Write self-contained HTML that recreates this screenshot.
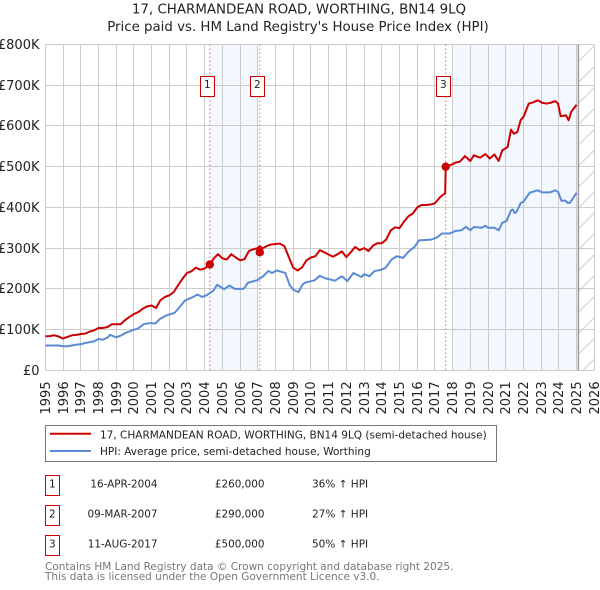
<!DOCTYPE html>
<html lang="en">
<head>
<meta charset="utf-8">
<title>17, CHARMANDEAN ROAD, WORTHING, BN14 9LQ</title>
<style>
html,body{margin:0;padding:0;background:#fff;width:600px;height:590px;overflow:hidden}
svg{display:block;font-family:"DejaVu Sans","Liberation Sans",sans-serif}
</style>
</head>
<body>
<svg id="chart" xmlns="http://www.w3.org/2000/svg" width="600" height="590" viewBox="0 0 600 590">
<defs>
<pattern id="hatch" patternUnits="userSpaceOnUse" width="20.9" height="20.9" patternTransform="translate(13,0)">
<line x1="0" y1="20.9" x2="20.9" y2="0" stroke="#ccc" stroke-width="1"/>
</pattern>
</defs>
<text x="299" y="13.5" text-anchor="middle" font-size="13.4" fill="#222">17, CHARMANDEAN ROAD, WORTHING, BN14 9LQ</text>
<text x="298" y="31" text-anchor="middle" font-size="13.35" fill="#222">Price paid vs. HM Land Registry's House Price Index (HPI)</text>
<g id="plot"></g>
<g>
<rect x="45.5" y="425.5" width="451" height="36" fill="#fff" stroke="#777" stroke-width="1"/>
<line x1="50" x2="91" y1="433.7" y2="433.7" stroke="#cc0000" stroke-width="2"/>
<text x="100" y="438.3" font-size="10.5" fill="#222">17, CHARMANDEAN ROAD, WORTHING, BN14 9LQ (semi-detached house)</text>
<line x1="50" x2="91" y1="451" y2="451" stroke="#5b8bd4" stroke-width="2"/>
<text x="100" y="455" font-size="10.5" fill="#222">HPI: Average price, semi-detached house, Worthing</text>
</g>
<g>
<rect x="45.5" y="475.5" width="14" height="20" fill="#fff" stroke="#c00" stroke-width="1"/>
<text x="52.4" y="487.3" text-anchor="middle" font-size="10.5" fill="#222">1</text>
<text x="157.5" y="487.3" text-anchor="end" font-size="10.4" fill="#222">16-APR-2004</text>
<text x="264.5" y="487.3" text-anchor="end" font-size="10.4" fill="#222">£260,000</text>
<text x="312" y="487.3" font-size="10.5" fill="#222">36% ↑ HPI</text>
<rect x="45.5" y="505.5" width="14" height="20" fill="#fff" stroke="#c00" stroke-width="1"/>
<text x="52.4" y="517.3" text-anchor="middle" font-size="10.5" fill="#222">2</text>
<text x="157.5" y="517.3" text-anchor="end" font-size="10.4" fill="#222">09-MAR-2007</text>
<text x="264.5" y="517.3" text-anchor="end" font-size="10.4" fill="#222">£290,000</text>
<text x="312" y="517.3" font-size="10.5" fill="#222">27% ↑ HPI</text>
<rect x="45.5" y="535.5" width="14" height="20" fill="#fff" stroke="#c00" stroke-width="1"/>
<text x="52.4" y="547.3" text-anchor="middle" font-size="10.5" fill="#222">3</text>
<text x="157.5" y="547.3" text-anchor="end" font-size="10.4" fill="#222">11-AUG-2017</text>
<text x="264.5" y="547.3" text-anchor="end" font-size="10.4" fill="#222">£500,000</text>
<text x="312" y="547.3" font-size="10.5" fill="#222">50% ↑ HPI</text>
</g>
<text x="45" y="570" font-size="10.5" fill="#777">Contains HM Land Registry data © Crown copyright and database right 2025.</text>
<text x="45" y="580" font-size="10.5" fill="#777">This data is licensed under the Open Government Licence v3.0.</text>
</svg>
<script>
const yearTicks = [1995,1996,1997,1998,1999,2000,2001,2002,2003,2004,2005,2006,2007,2008,2009,2010,2011,2012,2013,2014,2015,2016,2017,2018,2019,2020,2021,2022,2023,2024,2025,2026];
const valueTicks = [0,100,200,300,400,500,600,700,800];
const valueTickLabels = ['£0','£100K','£200K','£300K','£400K','£500K','£600K','£700K','£800K'];
const saleLabels = ['1','2','3'];
const saleDates = [2004.29,2007.11,2017.61];
const saleValues = [260,290,500];
const bandStarts = [2004.29,2018];
const bandEnds = [2007,2025];
const dataEndYear = 2025.1;
const propertyDates = [1995,1995.25,1995.5,1995.75,1996,1996.25,1996.5,1996.75,1997,1997.25,1997.5,1997.75,1998,1998.25,1998.5,1998.75,1999,1999.25,1999.5,1999.75,2000,2000.25,2000.5,2000.75,2001,2001.25,2001.5,2001.75,2002,2002.25,2002.5,2002.75,2003,2003.25,2003.5,2003.75,2004,2004.29,2004.5,2004.75,2005,2005.25,2005.5,2005.75,2006,2006.25,2006.5,2006.75,2007,2007.11,2007.25,2007.5,2007.75,2008,2008.25,2008.5,2008.75,2009,2009.25,2009.5,2009.75,2010,2010.25,2010.5,2010.75,2011,2011.25,2011.5,2011.75,2012,2012.25,2012.5,2012.75,2013,2013.25,2013.5,2013.75,2014,2014.25,2014.5,2014.75,2015,2015.25,2015.5,2015.75,2016,2016.25,2016.5,2016.75,2017,2017.25,2017.42,2017.58,2017.61,2018,2018.15,2018.4,2018.7,2019,2019.2,2019.55,2019.85,2020.1,2020.35,2020.6,2020.8,2021.1,2021.3,2021.45,2021.65,2021.85,2022,2022.3,2022.55,2022.8,2023.05,2023.3,2023.55,2023.8,2023.95,2024.1,2024.4,2024.55,2024.7,2025];
const propertyValues = [83.5,84,86,83,78,82,86,87,89,90,95,98,104,104,106,113,113,113,123,131,138,143,151,157,159,153,172,180,184,192,209,225,239,243,252,247,250,260,274,285,275,272,285,277,270,273,293,297,300,305,299,305,309,310,311,305,278,252,245,253,270,277,280,295,290,284,279,285,292,278,290,303,295,300,293,306,312,312,321,343,351,349,365,378,385,400,406,406,407,410,423,430,434,500,506,510,512,526,514,528,522,531,520,530,514,540,548,591,581,585,615,622,655,658,663,657,655,657,661,655,624,626,614,635,652];
const hpiDates = [1995,1995.25,1995.5,1995.75,1996,1996.25,1996.5,1996.75,1997,1997.25,1997.5,1997.75,1998,1998.25,1998.5,1998.66,1999,1999.3,1999.6,1999.9,2000.25,2000.55,2000.9,2001.2,2001.5,2001.85,2002.3,2002.6,2002.9,2003.25,2003.6,2003.85,2004.1,2004.5,2004.7,2005.1,2005.4,2005.7,2006.2,2006.45,2006.95,2007.3,2007.6,2007.8,2008.07,2008.55,2008.8,2009,2009.3,2009.5,2009.65,2010.2,2010.5,2010.8,2011.35,2011.75,2012.05,2012.4,2012.85,2013,2013.3,2013.6,2013.9,2014.2,2014.55,2014.85,2015.2,2015.5,2015.85,2016.1,2016.8,2017.1,2017.4,2017.85,2018.15,2018.5,2018.75,2019,2019.2,2019.65,2019.85,2020,2020.35,2020.6,2020.8,2021.05,2021.3,2021.4,2021.5,2021.6,2021.85,2022,2022.35,2022.8,2023.05,2023.5,2023.8,2023.95,2024.15,2024.35,2024.5,2024.62,2025];
const hpiValues = [61,61,61,61,59,59,61,63,64,67,69,71,77,75,80,87,81,86,93,98,103,113,116,115,127,135,141,156,172,178,186,180,184,196,210,199,208,200,200,215,221,231,244,239,245,239,209,198,192,209,215,221,232,226,220,231,219,239,229,236,231,244,246,251,272,280,276,291,303,319,321,326,336,336,342,344,352,344,352,350,355,350,350,344,362,367,393,395,386,389,411,414,436,442,437,437,442,438,416,417,411,411,436];

const plotLeft = 45.3, pxPerYear = 17.71, plotBaseY = 370.3, pxPerK = 0.40725;
function xScale(year) { return plotLeft + (year - 1995) * pxPerYear; }
function yScale(value) { return plotBaseY - value * pxPerK; }
function snap(v) { return Math.floor(v) + 0.5; }
const NS = 'http://www.w3.org/2000/svg';
const plot = document.getElementById('plot');
function make(tag, attrs, text) {
  const el = document.createElementNS(NS, tag);
  for (const k in attrs) el.setAttribute(k, attrs[k]);
  if (text !== undefined) el.textContent = text;
  plot.appendChild(el);
  return el;
}
function pathFrom(dates, values) {
  return dates.map(function (d, i) {
    return (i ? 'L' : 'M') + xScale(d).toFixed(2) + ' ' + yScale(values[i]).toFixed(2);
  }).join('');
}
const top800 = yScale(800), bottom0 = yScale(0), xEnd = xScale(2026);

bandStarts.forEach(function (start, i) {
  const band = make('rect', {x: xScale(start), y: top800, width: xScale(bandEnds[i]) - xScale(start), height: bottom0 - top800, fill: '#f3f7fe'});
  
  
});

const hatchRect = make('rect', {x: xScale(dataEndYear), y: top800, width: xEnd - xScale(dataEndYear), height: bottom0 - top800, fill: 'url(#hatch)'});



valueTicks.forEach(function (v, i) {
  const y = snap(yScale(v));
  const grid = make('line', {x1: snap(plotLeft), x2: snap(xEnd), y1: y, y2: y, stroke: '#ccc', 'stroke-width': 1});
  
  
  const label = make('text', {x: 39.5, y: y + 4.5, 'text-anchor': 'end', 'font-size': 13, fill: '#222'}, valueTickLabels[i]);
  
  
});

yearTicks.forEach(function (yr) {
  const x = snap(xScale(yr));
  const grid = make('line', {x1: x, x2: x, y1: top800, y2: bottom0, stroke: '#ccc', 'stroke-width': 1});
  
  
  const label = make('text', {x: 0, y: 0, transform: 'translate(' + (x + 4.5) + ',414.5) rotate(-90)', 'font-size': 13, fill: '#222'}, String(yr));
  
  
});

const endLine = make('line', {x1: xScale(dataEndYear), x2: xScale(dataEndYear), y1: top800, y2: bottom0, stroke: '#999', 'stroke-width': 1.5});



saleDates.forEach(function (d) {
  const vline = make('line', {x1: xScale(d), x2: xScale(d), y1: top800, y2: bottom0, stroke: '#ee6666', 'stroke-width': 1, 'stroke-dasharray': '1.5 2.5'});
  
  
});

const hpiLine = make('path', {d: pathFrom(hpiDates, hpiValues), fill: 'none', stroke: '#5b8bd4', 'stroke-width': 2, 'stroke-linejoin': 'round'});



const propertyLine = make('path', {d: pathFrom(propertyDates, propertyValues), fill: 'none', stroke: '#cc0000', 'stroke-width': 2, 'stroke-linejoin': 'round'});



saleDates.forEach(function (d, i) {
  const dot = make('circle', {cx: xScale(d), cy: yScale(saleValues[i]), r: 4.2, fill: '#cc0000'});
  
  
  const cx = Math.round(xScale(d) - 3);
  const box = make('rect', {x: cx - 6.5, y: 76.5, width: 14, height: 20, fill: '#fff', stroke: '#c00', 'stroke-width': 1});
  
  
  const num = make('text', {x: cx + 0.4, y: 88, 'text-anchor': 'middle', 'font-size': 10.5, fill: '#222'}, saleLabels[i]);
  
  
});
</script>
</body>
</html>
